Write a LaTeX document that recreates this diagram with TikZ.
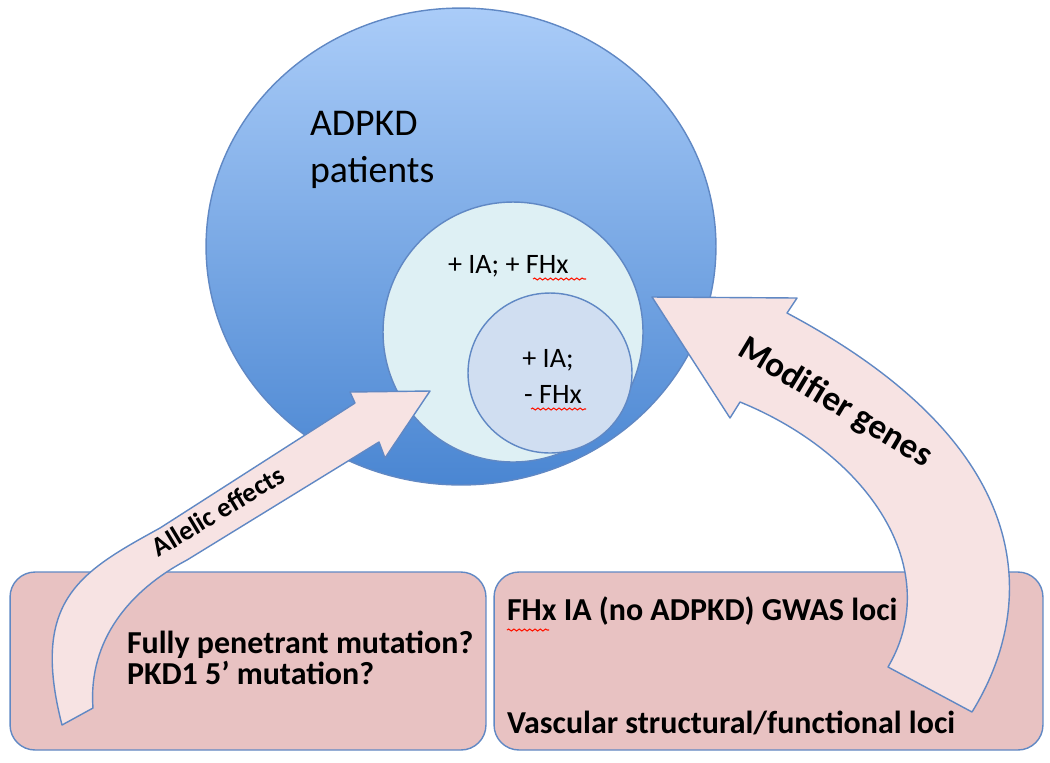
\documentclass[tikz,border=0pt]{standalone}
\usepackage{fontspec}
\setmainfont{Carlito}
\usepackage{tikz}
\usetikzlibrary{shapes.geometric,decorations.pathmorphing}
\definecolor{clrtop}{RGB}{170,204,248}
\definecolor{clrbottom}{RGB}{74,134,210}
\definecolor{clredge}{RGB}{96,136,196}
\definecolor{clrfamily}{RGB}{222,240,244}
\definecolor{clrsporadic}{RGB}{208,222,241}
\definecolor{clrbox}{RGB}{232,194,194}
\definecolor{clrarrow}{RGB}{247,227,227}
\newcommand{\bigfont}{\fontsize{21.5}{25}\selectfont}
\newcommand{\midfont}{\fontsize{16}{19}\selectfont}
\newcommand{\boxfont}{\fontsize{18.2}{22}\selectfont\bfseries}

\tikzset{
    venn/.style={ellipse, draw=clredge, line width=0.8pt, inner sep=0pt, outer sep=0pt},
    panel/.style={rectangle, rounded corners=0.5cm, draw=clredge, line width=0.8pt,
        fill=clrbox, inner sep=0pt, outer sep=0pt, minimum height=3.56cm},
    blockarrow/.style={draw=clredge, line width=0.8pt, fill=clrarrow, line join=round},
    label/.style={inner sep=0pt, outer sep=0pt},
    squiggle/.style={draw=red!85!orange, line width=0.6pt, decorate,
        decoration={snake, amplitude=0.55pt, segment length=3pt}}
}

\begin{document}
\begin{tikzpicture}[x=0.02cm, y=-0.02cm]

        \useasboundingbox (0,0) rectangle (1050,762);

        \node[venn, top color=clrtop, bottom color=clrbottom,
            minimum width=10.2cm, minimum height=9.54cm] (patients) at (461,246.5) {};
        \node[venn, fill=clrfamily, minimum width=5.2cm, minimum height=5.2cm] (family) at (513,332) {};
        \node[venn, fill=clrsporadic, minimum width=3.28cm, minimum height=3.2cm] (sporadic) at (550,373) {};

        \node[label, anchor=base west] (adpkd) at (310,135) {\bigfont ADPKD};
        \node[label, anchor=base west] (pts) at (310,182) {\bigfont patients};
        \node[label, anchor=base west] (fam) at (448,273) {\midfont + IA; + FHx};
        \node[label, anchor=base] (spo1) at (548,367) {\midfont + IA;};
        \node[label, anchor=base] (spo2) at (553,403) {\midfont - FHx};

        \node[panel, minimum width=9.52cm] (allelic) at (248,661) {};
        \node[panel, minimum width=10.98cm] (modifier) at (768.5,661) {};

        \node[label, anchor=base west] (full) at (127,653) {\boxfont Fully penetrant mutation?};
        \node[label, anchor=base west] (pkd) at (127,684) {\boxfont PKD1 5’ mutation?};
        \node[label, anchor=base west] (gwas) at (507,620) {\boxfont FHx IA (no ADPKD) GWAS loci};
        \node[label, anchor=base west] (vasc) at (507,733) {\boxfont Vascular structural/functional loci};

        \foreach \a/\b/\y in {533/586/279, 531/586/409, 507/549/630} {
            \draw[squiggle] (\a,\y) -- (\b,\y);
        }

        \coordinate (ltip) at (430,391);
        \coordinate (rtip) at (652,297);

        \draw[blockarrow] (62,725) .. controls (30,600) and (80,572) .. (160,528)
            -- (355,403) -- (350,392) -- (ltip) -- (385,458) -- (379,442)
            -- (187,560) .. controls (130,590) and (88,640) .. (93,708) -- cycle;

        \draw[blockarrow] (972,712) .. controls (1035,610) and (1045,450) .. (787,313)
            -- (797,298) -- (rtip) -- (730,418) -- (740,402)
            .. controls (870,455) and (945,570) .. (888,667) -- cycle;

        \node[label, rotate=31] (effects) at (218,511) {\fontsize{15.5}{18}\selectfont\bfseries Allelic effects};
        \node[label, rotate=-31] (genes) at (835,403) {\fontsize{20}{24}\selectfont\bfseries Modifier genes};

\end{tikzpicture}
\end{document}
